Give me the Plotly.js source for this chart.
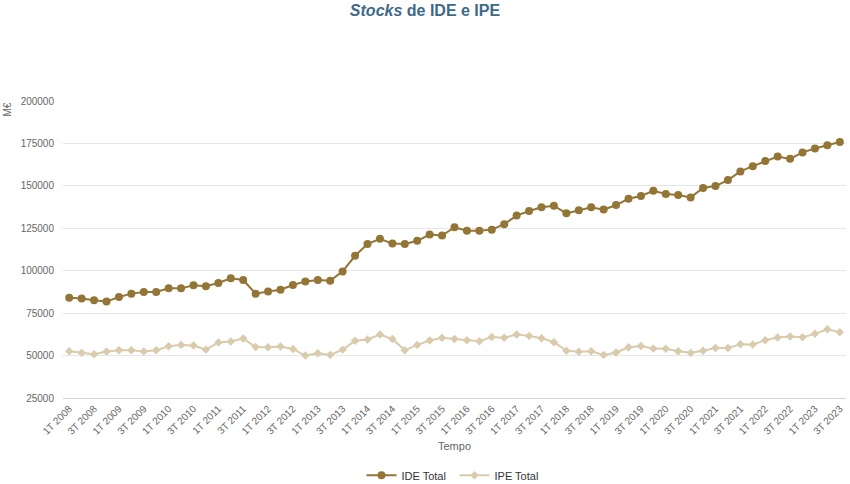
<!DOCTYPE html>
<html>
<head>
<meta charset="utf-8">
<script src="https://cdn.plot.ly/plotly-3.0.1.min.js"></script>
<style>html,body{margin:0;padding:0;background:#fff;}#chart{width:850px;height:484px;}</style>
</head>
<body>
<div id="chart"></div>
<script>
const years = [2008,2009,2010,2011,2012,2013,2014,2015,2016,2017,2018,2019,2020,2021,2022,2023];
const quarters = [];
years.forEach(y => { for (let q = 1; q <= 4; q++) { if (y === 2023 && q > 3) break; quarters.push(q + 'T ' + y); } });

const ideTotal = [84000,83600,82600,81800,84500,86500,87500,87500,89600,89600,91400,90800,92800,95500,94500,86500,
  87700,88800,91600,93700,94500,94100,99600,108800,115700,118800,116000,115700,117600,121300,120700,125600,
  123500,123500,124200,127400,132500,135200,137400,138300,133800,135600,137400,136000,138700,142400,144000,147100,
  145200,144600,143200,148700,149900,153400,158500,161600,164600,167300,165900,169700,172000,174000,175800];
const ipeTotal = [52500,51600,50800,52400,53100,53100,52400,53100,55500,56300,55900,53500,57700,58300,60000,55100,
  54900,55300,53900,50000,51400,50400,53500,58700,59500,62400,59800,53100,56300,58900,60500,59800,
  59000,58500,61000,60500,62400,61600,60200,57900,52900,52200,52500,50400,51800,54900,55700,54100,
  54000,52500,51600,52800,54500,54500,56700,56500,59000,60600,61200,60800,62800,65500,63800];
const yTicks = [25000,50000,75000,100000,125000,150000,175000,200000];

const font = '"Liberation Sans", Arial, sans-serif';
const traces = [
  {x: quarters, y: ideTotal, name: 'IDE Total', type: 'scatter', mode: 'lines+markers',
   line: {color: '#937535', width: 2}, marker: {symbol: 'circle', size: 8, color: '#937535'}},
  {x: quarters, y: ipeTotal, name: 'IPE Total', type: 'scatter', mode: 'lines+markers',
   line: {color: '#d9cbab', width: 2}, marker: {symbol: 'diamond', size: 6.5, color: '#d9cbab'}}
];
const layout = {
  width: 850, height: 484,
  margin: {l: 63, r: 4, t: 101, b: 86},
  paper_bgcolor: '#fff', plot_bgcolor: '#fff',
  font: {family: font, color: '#666666', size: 10},
  title: {text: '<b><i>Stocks</i> de IDE e IPE</b>', x: 0.5, xanchor: 'center', y: 0.99, yanchor: 'top',
    font: {family: font, size: 16, color: '#3e6987'}},
  showlegend: true,
  legend: {orientation: 'h', x: 0.5, xanchor: 'center', yref: 'container', y: 0.018, yanchor: 'middle',
    itemwidth: 30, entrywidth: 48, font: {family: font, size: 11, color: '#333333'}},
  xaxis: {type: 'category', range: [-0.5, 62.5], tickmode: 'linear', tick0: 0, dtick: 2, automargin: false,
    tickangle: -45, tickfont: {size: 10, color: '#666666'}, showgrid: false,
    showline: true, linecolor: '#ccd6eb', linewidth: 1, ticks: '', zeroline: false,
    title: {text: 'Tempo', font: {size: 11, color: '#666666'}, standoff: 6}},
  yaxis: {range: [25000, 200000], tickvals: yTicks, ticktext: yTicks.map(String), automargin: false,
    showgrid: true, gridcolor: '#e6e6e6', zeroline: false, showline: false, ticks: '',
    tickfont: {size: 10, color: '#666666'}, ticklabelstandoff: 8},
  annotations: [{text: 'M€', xref: 'paper', yref: 'paper', x: -0.072, y: 1.0, xanchor: 'center', yanchor: 'top',
    textangle: -90, showarrow: false, font: {size: 10, color: '#666666', family: font}}]
};
Plotly.newPlot('chart', traces, layout, {displayModeBar: false, staticPlot: true});
</script>
</body>
</html>
